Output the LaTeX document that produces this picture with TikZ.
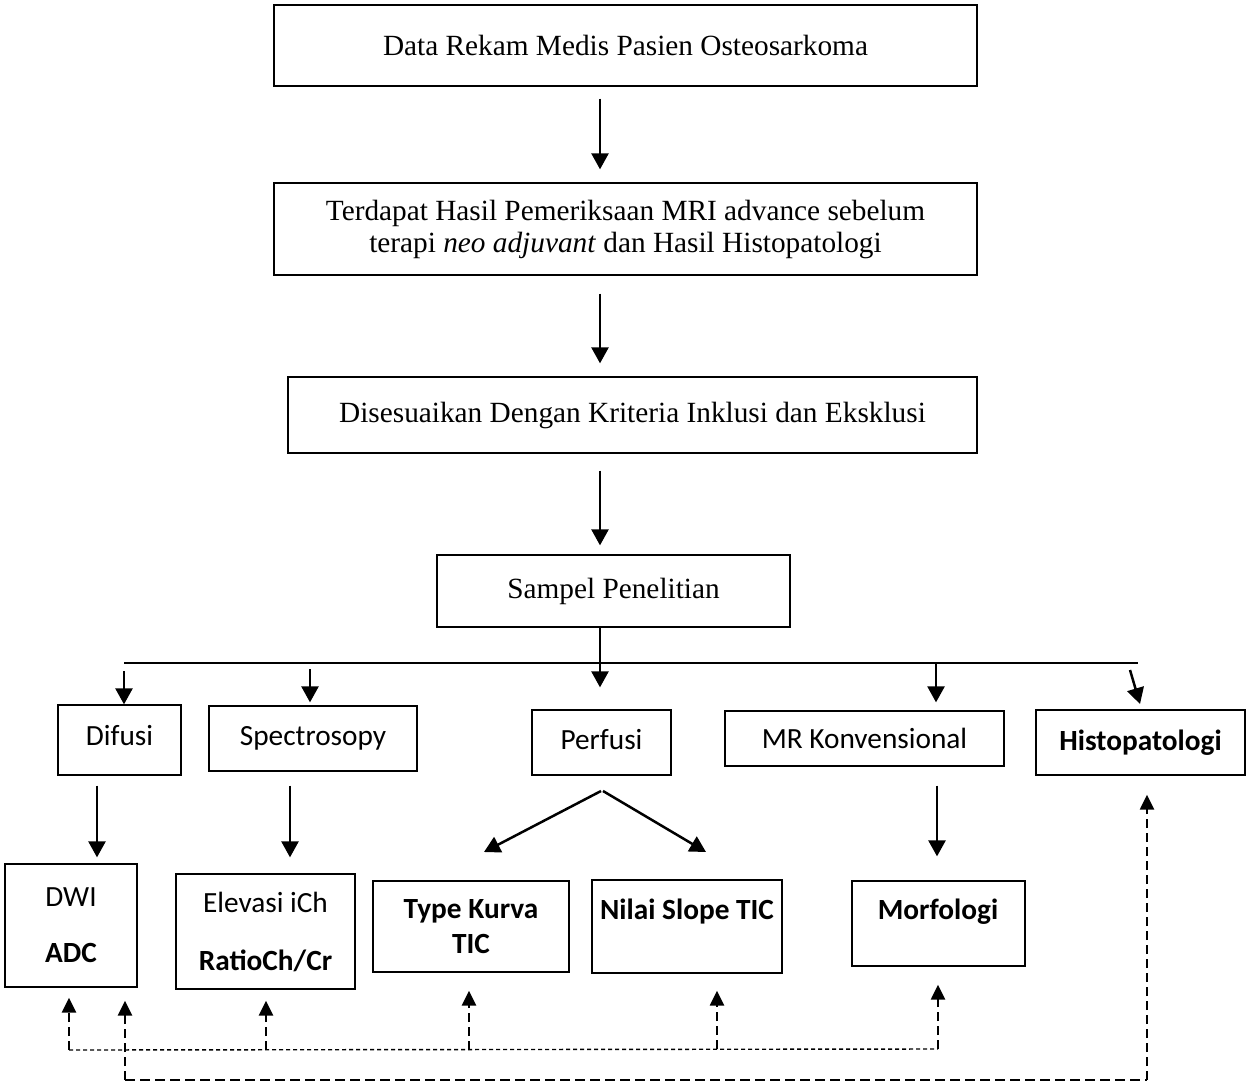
\documentclass[tikz,border=0pt]{standalone}
\usepackage{fontspec}
\setmainfont{Liberation Serif}
\newfontfamily\calfont{Carlito}
\usetikzlibrary{arrows.meta}
\newcommand\tnrsize{\fontsize{29.3}{32}\selectfont}
\newcommand\calsize{\calfont\fontsize{29.3}{32}\selectfont}
\begin{document}
\begin{tikzpicture}[x=1pt,y=-1pt,
  box/.style={draw,line width=1.3pt,inner sep=0pt,align=center},
  tbox/.style={box,font=\tnrsize},
  cbox/.style={box,font=\calsize},
  lbl/.style={inner sep=0pt,font=\calsize\bfseries},
  arr/.style={line width=2.5pt,-{Triangle[width=17pt,length=16pt]}},
  darr/.style={line width=2.4pt,dash pattern=on 9pt off 5pt,-{Triangle[width=14pt,length=15pt]}},
  tdash/.style={line width=1.4pt,dash pattern=on 4pt off 3pt},
  kdash/.style={line width=2.6pt,dash pattern=on 10pt off 5pt}]
\useasboundingbox (0,0) rectangle (1246,1084);
% top boxes
\node[tbox,minimum width=703pt,minimum height=81pt] (b1) at (625.5,45.5) {Data Rekam Medis Pasien Osteosarkoma};
\node[tbox,minimum width=703pt,minimum height=92pt] (b2) at (625.5,229) {Terdapat Hasil Pemeriksaan MRI advance sebelum\\terapi \textit{neo adjuvant} dan Hasil Histopatologi};
\node[tbox,minimum width=689pt,minimum height=76pt] (b3) at (632.5,415) {Disesuaikan Dengan Kriteria Inklusi dan Eksklusi};
\node[tbox,minimum width=353pt,minimum height=72pt] (b4) at (613.5,591) {Sampel Penelitian};
% middle row
\node[cbox,minimum width=123pt,minimum height=70pt] (dif) at (119.5,740) {};
\node[inner sep=0pt,font=\calsize] (diftxt) at (119.5,736) {Difusi};
\node[cbox,minimum width=208pt,minimum height=65pt] (spe) at (313,738.5) {Spectrosopy};
\node[cbox,minimum width=139pt,minimum height=65pt] (per) at (601.5,742.5) {};
\node[inner sep=0pt,font=\calsize] (pertxt) at (601.5,740) {Perfusi};
\node[cbox,minimum width=279pt,minimum height=55pt] (mrk) at (864.5,738.5) {MR Konvensional};
\node[cbox,minimum width=209pt,minimum height=65pt,font=\calsize\bfseries] (his) at (1140.5,742.5) {Histopatologi};
% bottom row
\node[cbox,minimum width=132pt,minimum height=123pt] (dwi) at (71,925.5) {DWI\\[24pt]\textbf{ADC}};
\node[cbox,minimum width=179pt,minimum height=115pt] (ele) at (265.5,931.5) {Elevasi iCh\\[26pt]\textbf{RatioCh/Cr}};
\node[cbox,minimum width=196pt,minimum height=91pt,font=\calsize\bfseries] (typ) at (471,926.5) {Type Kurva\\[3pt]TIC};
\node[box,minimum width=190pt,minimum height=93pt] (nil) at (687,926.5) {};
\node[lbl] (niltxt) at (687,912) {Nilai Slope TIC};
\node[box,minimum width=173pt,minimum height=85pt] (mor) at (938.5,923.5) {};
\node[lbl] (mortxt) at (938,912) {Morfologi};
% vertical arrows at top
\coordinate (cx) at (600,0);
\draw[arr] ([yshift=-12pt]b1.south -| cx) -- ([yshift=13pt]b2.north -| cx);
\draw[arr] ([yshift=-18pt]b2.south -| cx) -- ([yshift=13pt]b3.north -| cx);
\draw[arr] ([yshift=-17pt]b3.south -| cx) -- ([yshift=9pt]b4.north -| cx);
% bus
\coordinate (bL) at (124,663);
\coordinate (bR) at (1138,663);
\draw[line width=2.5pt] (bL) -- (bR);
\draw[arr] (b4.south -| cx) -- ([yshift=22pt]per.north -| cx);
\draw[arr] ([yshift=-8pt]bL) -- (dif.north -| bL);
\coordinate (s2) at (310,669);
\draw[arr] (s2) -- ([yshift=3pt]spe.north -| s2);
\coordinate (s4) at (936,663);
\draw[arr] (s4) -- ([yshift=8pt]mrk.north -| s4);
\coordinate (s5) at (1130,670);
\coordinate (e5) at (1140,704);
\draw[arr] (s5) -- (e5);
% second-level arrows
\coordinate (d1) at (97,0);
\draw[arr] ([yshift=-10pt]dif.south -| d1) -- ([yshift=6pt]dwi.north -| d1);
\coordinate (d2) at (290,0);
\draw[arr] ([yshift=-14pt]spe.south -| d2) -- ([yshift=16pt]ele.north -| d2);
\coordinate (pt1) at (601,791);
\coordinate (pt2) at (603,791);
\coordinate (pe1) at (484,852);
\coordinate (pe2) at (706,852);
\draw[arr] (pt1) -- (pe1);
\draw[arr] (pt2) -- (pe2);
\coordinate (d4) at (937,0);
\draw[arr] ([yshift=-19pt]mrk.south -| d4) -- ([yshift=24pt]mor.north -| d4);
% dashed feedback
\coordinate (t1) at (69,1050);
\coordinate (t2) at (266,1050);
\coordinate (t3) at (469,1050);
\coordinate (t4) at (717,1049);
\coordinate (t5) at (938,1049);
\coordinate (k1) at (125,1080);
\coordinate (k2) at (1147,1080);
\draw[tdash] (t1) -- (t5);
\draw[kdash] (k1) -- (k2);
\draw[darr] (t1) -- ([yshift=-10pt]dwi.south -| t1);
\draw[darr] (k1) -- ([yshift=-13pt]dwi.south -| k1);
\draw[darr] (t2) -- ([yshift=-11pt]ele.south -| t2);
\draw[darr] (t3) -- ([yshift=-18pt]typ.south -| t3);
\draw[darr] (t4) -- ([yshift=-17pt]nil.south -| t4);
\draw[darr] (t5) -- ([yshift=-18pt]mor.south -| t5);
\draw[darr] (k2) -- ([yshift=-19pt]his.south -| k2);
\end{tikzpicture}
\end{document}
